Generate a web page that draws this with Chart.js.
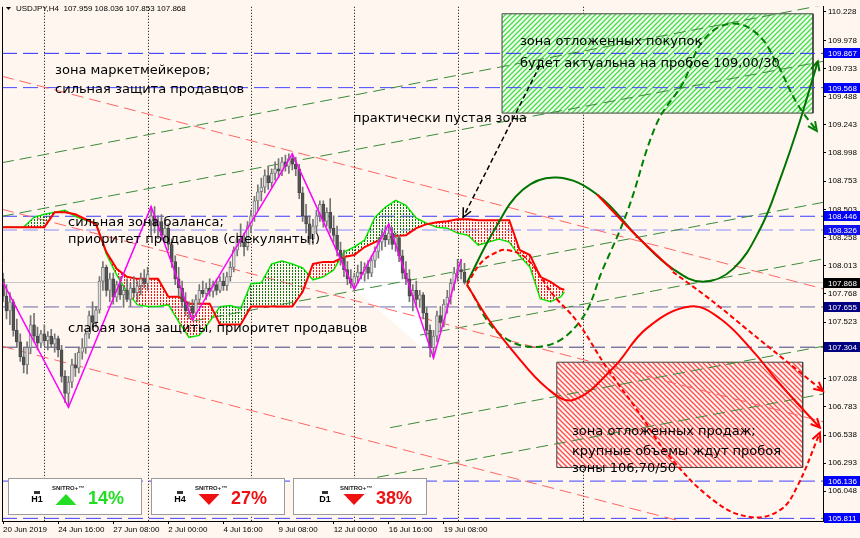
<!DOCTYPE html>
<html>
<head>
<meta charset="utf-8">
<script src="https://cdn.jsdelivr.net/npm/chart.js@4.4.1/dist/chart.umd.min.js"></script>
<style>
html,body{margin:0;padding:0;background:#fff7ef;}
canvas{display:block;}
</style>
</head>
<body>
<canvas id="chart" width="860" height="538"></canvas>
<script>
//CANDLES (H4 bars, index 0 = 20 Jun 2019 00:00)
const barOpen=[107.90,107.75,107.62,107.70,107.45,107.35,107.22,107.15,107.30,107.50,107.40,107.34,107.42,107.36,107.40,107.33,107.38,107.28,107.05,106.90,
107.00,107.15,107.12,107.26,107.30,107.42,107.58,107.52,107.63,107.88,108.00,107.80,107.90,107.74,107.85,107.76,107.80,107.72,107.82,107.78,
107.84,107.90,107.86,108.40,108.45,108.36,108.40,108.28,108.34,108.20,108.05,107.90,107.82,107.70,107.62,107.66,107.60,107.72,107.80,107.77,
107.82,107.79,107.85,107.80,107.88,107.84,107.92,108.00,108.15,108.25,108.22,108.18,108.36,108.45,108.58,108.66,108.70,108.80,108.74,108.82,
108.86,108.84,108.92,108.88,108.95,108.90,108.86,108.65,108.45,108.38,108.25,108.36,108.45,108.55,108.40,108.48,108.34,108.28,108.15,108.08,
107.98,107.90,107.86,107.92,107.96,107.94,108.00,107.95,108.06,108.14,108.22,108.28,108.24,108.30,108.20,108.26,108.10,107.95,107.90,107.75,
107.80,107.72,107.76,107.60,107.45,107.30,107.40,107.58,107.52,107.68,107.74,107.86,107.95,107.98,107.959];
const barHigh=[107.95,107.85,107.78,107.72,107.55,107.42,107.30,107.35,107.58,107.60,107.48,107.45,107.50,107.44,107.46,107.42,107.40,107.32,107.10,107.05,
107.20,107.25,107.30,107.38,107.45,107.62,107.70,107.66,107.92,108.05,108.02,107.95,107.95,107.88,107.92,107.84,107.90,107.86,107.92,107.88,
107.95,107.98,108.00,108.53,108.53,108.45,108.46,108.40,108.38,108.25,108.10,108.00,107.88,107.78,107.70,107.72,107.76,107.85,107.88,107.86,
107.90,107.88,107.90,107.92,107.95,107.96,108.05,108.18,108.30,108.38,108.30,108.40,108.50,108.62,108.72,108.78,108.85,108.88,108.86,108.92,
108.95,108.96,108.98,108.99,108.99,108.96,108.90,108.70,108.55,108.45,108.42,108.50,108.58,108.58,108.52,108.60,108.45,108.36,108.22,108.15,
108.05,107.98,107.95,108.02,108.05,108.04,108.06,108.10,108.18,108.26,108.32,108.36,108.38,108.35,108.30,108.28,108.15,108.05,107.98,107.85,
107.88,107.80,107.78,107.65,107.50,107.45,107.62,107.66,107.72,107.80,107.90,108.00,108.07,108.07,108.036];
const barLow=[107.70,107.55,107.50,107.40,107.30,107.18,107.08,107.07,107.25,107.35,107.28,107.30,107.32,107.28,107.30,107.26,107.22,107.00,106.82,106.78,
106.95,107.05,107.08,107.20,107.25,107.38,107.45,107.48,107.60,107.80,107.75,107.70,107.68,107.70,107.72,107.65,107.70,107.66,107.74,107.70,
107.76,107.82,107.80,108.28,108.30,108.25,108.24,108.22,108.15,108.00,107.85,107.75,107.65,107.58,107.55,107.54,107.58,107.68,107.74,107.72,
107.75,107.74,107.76,107.78,107.80,107.80,107.88,107.96,108.10,108.18,108.10,108.15,108.30,108.40,108.50,108.58,108.65,108.68,108.70,108.76,
108.78,108.80,108.84,108.82,108.85,108.80,108.60,108.40,108.30,108.20,108.20,108.30,108.40,108.35,108.36,108.30,108.22,108.10,108.02,107.92,
107.85,107.82,107.81,107.86,107.90,107.88,107.90,107.92,108.00,108.08,108.15,108.18,108.20,108.16,108.14,108.05,107.90,107.85,107.70,107.62,
107.66,107.65,107.55,107.40,107.22,107.21,107.35,107.45,107.48,107.60,107.68,107.80,107.88,107.90,107.853];
const barClose=[107.75,107.62,107.70,107.45,107.35,107.22,107.15,107.30,107.50,107.40,107.34,107.42,107.36,107.40,107.33,107.38,107.28,107.05,106.90,107.00,
107.15,107.12,107.26,107.30,107.42,107.58,107.52,107.63,107.88,108.00,107.80,107.90,107.74,107.85,107.76,107.80,107.72,107.82,107.78,107.84,
107.90,107.86,107.94,108.45,108.36,108.40,108.28,108.34,108.20,108.05,107.90,107.82,107.70,107.62,107.66,107.60,107.72,107.80,107.77,107.82,
107.79,107.85,107.80,107.88,107.84,107.92,108.00,108.15,108.25,108.22,108.18,108.36,108.45,108.58,108.66,108.70,108.80,108.74,108.82,108.86,
108.84,108.92,108.88,108.95,108.90,108.86,108.65,108.45,108.38,108.25,108.36,108.45,108.55,108.40,108.48,108.34,108.28,108.15,108.08,107.98,
107.90,107.86,107.92,107.96,107.94,108.00,107.95,108.06,108.14,108.22,108.28,108.24,108.30,108.20,108.26,108.10,107.95,107.90,107.75,107.80,
107.72,107.76,107.60,107.45,107.30,107.40,107.58,107.52,107.68,107.74,107.86,107.95,107.98,107.96,107.868];

//AXES
const xTickBars=[0,16,32,48,64,80,96,112,128];
const xTickLabels=['20 Jun 2019','24 Jun 16:00','27 Jun 08:00','2 Jul 00:00','4 Jul 16:00','9 Jul 08:00','12 Jul 00:00','16 Jul 16:00','19 Jul 08:00'];
const yTickValues=[110.228,109.978,109.733,109.488,109.243,108.998,108.753,108.503,108.258,108.013,107.768,107.523,107.278,107.028,106.783,106.538,106.293,106.048];
const gridBars=[12,42,72,102,132,168.4];

//HORIZONTAL LEVELS
const levelPrices=[109.867,109.568,108.446,108.326,107.655,107.304,106.136,105.811];
const levelLine=['#2a2aff','#4646ff','#3a3aff','#8c8cff','#6a6aa8','#40407e','#4040ff','#4040ff'];
const levelBox=['#0000ff','#0000ff','#0000ff','#1010f0','#000080','#000080','#0000ff','#0000ff'];
const lastPrice=107.868;

//ZIGZAG
const zigzagBars=[0,19,43,55,84,102,112,125,133];
const zigzagPrices=[107.87,106.78,108.53,107.54,108.99,107.81,108.38,107.21,108.07];

//CLOUD
const cloudBars=[0,3,6,9,12,15,18,21,24,27,30,33,36,39,42,45,48,51,54,57,60,63,66,69,72,75,78,81,84,87,90,93,96,99,102,105,108,111,114,117,120,123,126,129,132,135,138,141,144,147,150,153,156,159,162,163];
const cloudRed=[108.351,108.351,108.351,108.351,108.351,108.481,108.481,108.463,108.420,108.377,108.134,107.987,107.918,107.900,107.900,107.900,107.745,107.745,107.684,107.684,107.684,107.502,107.502,107.502,107.658,107.658,107.658,107.658,107.658,107.788,108.030,108.048,108.048,108.091,108.108,108.178,108.221,108.255,108.273,108.281,108.342,108.377,108.394,108.403,108.420,108.420,108.411,108.411,108.411,108.411,108.152,108.108,107.918,107.874,107.814,107.805];
const cloudGreen=[108.351,108.351,108.351,108.437,108.463,108.481,108.498,108.446,108.411,108.385,108.117,107.935,107.788,107.675,107.658,107.658,107.675,107.528,107.390,107.407,107.528,107.658,107.667,107.641,107.857,107.866,108.030,108.056,108.030,107.996,107.892,107.918,107.978,108.134,108.178,108.238,108.437,108.524,108.584,108.541,108.429,108.385,108.351,108.342,108.299,108.281,108.195,108.221,108.247,108.221,108.100,108.004,107.727,107.701,107.745,107.788];

//CHANNEL LINES [startBar,startPrice,endBar,endPrice]
const redChannel=[[-0.3,109.667,238.1,107.814],[-0.3,108.507,238.1,106.654],[-0.3,107.312,196.6,105.788]];
const greenChannel=[[-0.3,108.913,238.1,110.288],[-0.3,108.446,238.1,109.797],[55.2,107.532,238.1,108.567],[121.1,107.410,238.1,108.074],[112.4,106.602,238.1,107.312],[108.6,106.169,238.1,106.896]];

//FORECAST PATHS
const greenPathBars=[134.7,142.3,151.0,160.9,172.5,184.9,194.5,203.3,212.0,219.8,225.6,231.4,236.6];
const greenPathPrices=[107.866,108.307,108.680,108.784,108.636,108.247,107.987,107.874,107.987,108.333,108.766,109.277,109.797];
const greenAltBars=[134.7,144.3,156.8,167.5,174.2,181.2,189.9,197.4,203.3,211.1,218.9,224.7,230.5,236.3];
const greenAltPrices=[107.848,107.416,107.312,107.528,107.987,108.481,109.260,109.606,109.978,110.126,110.039,109.779,109.433,109.190];
const redPathBars=[134.7,141.4,148.1,157.9,165.5,177.1,186.9,199.5,208.2,217.8,225.6,237.2];
const redPathPrices=[107.848,107.528,107.268,106.948,106.844,107.121,107.468,107.658,107.554,107.268,106.983,106.602];
const redAltBars=[134.7,138.5,142.3,146.3,152.1,159.7,166.7,175.4,184.9,192.8,206.2,216.9,225.6,230.5,237.2];
const redAltPrices=[107.848,108.030,108.117,108.152,108.074,107.762,107.528,107.121,106.723,106.377,105.970,105.823,105.883,106.082,106.558];
const redBranchBars=[172.5,184.9,194.5];
const redBranchPrices=[108.636,108.247,107.978];
const redBranchDashBars=[194.5,206.2,217.8,228.5,238.1];
const redBranchDashPrices=[107.961,107.701,107.416,107.156,106.922];
const pointerBars=[155.9,133.6];
const pointerPrices=[109.762,108.437];

//ZONES [leftBar,rightBar,topPrice,bottomPrice]
const buyZone=[144.9,235.2,110.212,109.346];
const sellZone=[160.8,232.2,107.173,106.255];
const triBars=[102,112,125];
const triPrices=[107.814,108.377,107.216];

//SIGNAL PANELS
const signalFrames=['H1','H4','D1'];
const signalPercent=[14,27,38];
const signalUp=[true,false,false];

//NOTES
const notes=[
 ['зона маркетмейкеров;',15.1,109.719],
 ['сильная защита продавцов',15.1,109.554],
 ['практически пустая зона',101.6,109.294],
 ['зона отложенных покупок',150.1,109.970],
 ['будет актуальна на пробое 109,00/30',150.1,109.779],
 ['сильная зона баланса;',18.9,108.394],
 ['приоритет продавцов (спекулянты!)',18.9,108.238],
 ['слабая зона защиты, приоритет продавцов',18.9,107.468],
 ['зона отложенных продаж;',165.2,106.567],
 ['крупные объемы ждут пробоя',165.2,106.394],
 ['зоны 106,70/50',165.2,106.247]
];

const X_MIN=-0.3, X_MAX=238.1;
const canvas=document.getElementById('chart');
const mainCtx=canvas.getContext('2d');

//PATTERNS
function hatch(bg,fg,dir){
    const c=document.createElement('canvas');c.width=5;c.height=5;
    const g=c.getContext('2d');
    g.fillStyle=bg;g.fillRect(0,0,5,5);
    g.strokeStyle=fg;g.lineWidth=1.3;g.beginPath();
    if(dir>0){g.moveTo(0,5);g.lineTo(5,0);g.moveTo(-1,1);g.lineTo(1,-1);g.moveTo(4,6);g.lineTo(6,4);}
    else{g.moveTo(0,0);g.lineTo(5,5);g.moveTo(-1,4);g.lineTo(1,6);g.moveTo(4,-1);g.lineTo(6,1);}
    g.stroke();
    return mainCtx.createPattern(c,'repeat');
}
function dots(color){
    const c=document.createElement('canvas');c.width=3;c.height=3;
    const g=c.getContext('2d');g.fillStyle=color;g.fillRect(1,0,1,2);
    return mainCtx.createPattern(c,'repeat');
}
const pts=(bs,ps)=>bs.map((b,i)=>({x:b,y:ps[i]}));
const rect=z=>[{x:z[0],y:z[2]},{x:z[1],y:z[2]},{x:z[1],y:z[3]},{x:z[0],y:z[3]},{x:z[0],y:z[2]}];
const line=(o)=>Object.assign({type:'line',pointRadius:0,borderWidth:1,tension:0,fill:false},o);

const ds=[];
ds.push(line({data:pts(triBars,triPrices).concat([{x:triBars[0],y:triPrices[0]}]),fill:'shape',backgroundColor:'#ffffff',borderColor:'rgba(0,0,0,0)',order:100}));
ds.push(line({data:rect(buyZone),fill:'shape',backgroundColor:hatch('#f2fff0','#46dc46',1),borderColor:'#404040',order:95}));
ds.push(line({data:rect(sellZone),fill:'shape',backgroundColor:hatch('#fff4f0','#ff4a4a',-1),borderColor:'#404040',order:95}));
levelPrices.forEach((p,i)=>ds.push(line({data:[{x:X_MIN,y:p},{x:X_MAX,y:p}],borderColor:levelLine[i],borderDash:[15,6],order:90})));
ds.push(line({data:[{x:X_MIN,y:lastPrice},{x:X_MAX,y:lastPrice}],borderColor:'#c8c8c8',order:89}));
redChannel.forEach(r=>ds.push(line({data:[{x:r[0],y:r[1]},{x:r[2],y:r[3]}],borderColor:'#ff6464',borderDash:[12,6],order:85})));
greenChannel.forEach(r=>ds.push(line({data:[{x:r[0],y:r[1]},{x:r[2],y:r[3]}],borderColor:'#3a8a3a',borderDash:[12,6],order:85})));
ds.push(line({data:pts(cloudBars,cloudGreen),borderColor:'#00ee00',borderWidth:1.5,order:80}));
ds.push(line({data:pts(cloudBars,cloudRed),borderColor:'#ff0000',borderWidth:2,order:79,
    fill:{target:'-1',above:dots('#ff1010'),below:dots('#107a10')}}));
ds.push({type:'bar',data:barLow.map((l,i)=>({x:i,y:[l,barHigh[i]]})),barThickness:1,grouped:false,backgroundColor:'#747474',borderWidth:0,order:70});
ds.push({type:'bar',data:barOpen.map((o,i)=>({x:i,y:[o,barClose[i]]})),barThickness:3,grouped:false,borderWidth:1,borderSkipped:false,order:69,
    backgroundColor:c=>barClose[c.dataIndex]>=barOpen[c.dataIndex]?'#e0e0e0':'#555555',
    borderColor:c=>barClose[c.dataIndex]>=barOpen[c.dataIndex]?'#7e7e7e':'#474747'});
ds.push(line({data:pts(zigzagBars,zigzagPrices),borderColor:'#ff00ff',borderWidth:1.5,order:60}));
ds.push(line({data:pts(greenAltBars,greenAltPrices),borderColor:'#008000',borderWidth:2,borderDash:[7,4],tension:0.4,arrowHead:true,order:52}));
ds.push(line({data:pts(greenPathBars,greenPathPrices),borderColor:'#007400',borderWidth:2,tension:0.4,arrowHead:true,order:51}));
ds.push(line({data:pts(redAltBars,redAltPrices),borderColor:'#ff0000',borderWidth:2,borderDash:[5,3],tension:0.4,arrowHead:true,order:50}));
ds.push(line({data:pts(redPathBars,redPathPrices),borderColor:'#ff0000',borderWidth:2,tension:0.4,arrowHead:true,order:50}));
ds.push(line({data:pts(redBranchBars,redBranchPrices),borderColor:'#ff0000',borderWidth:2,tension:0.4,order:49}));
ds.push(line({data:pts(redBranchDashBars,redBranchDashPrices),borderColor:'#ff0000',borderWidth:2,borderDash:[5,3],tension:0.3,arrowHead:true,order:49}));
ds.push(line({data:pts(pointerBars,pointerPrices),borderColor:'#000000',borderWidth:1.5,borderDash:[5,3],arrowHead:true,order:48}));

//DECORATION PLUGIN
const decor={
    id:'decor',
    beforeDatasetsDraw(chart){
        const {ctx,chartArea:a,scales:{x}}=chart;
        ctx.save();
        ctx.strokeStyle='#000';ctx.lineWidth=1;ctx.setLineDash([1,2]);
        gridBars.forEach(b=>{
            const px=Math.round(x.getPixelForValue(b))+0.5;
            ctx.beginPath();ctx.moveTo(px,a.top);ctx.lineTo(px,a.bottom);ctx.stroke();
        });
        ctx.restore();
    },
    afterDatasetsDraw(chart){
        const {ctx,scales:{x,y}}=chart;
        chart.data.datasets.forEach((d,i)=>{
            if(!d.arrowHead)return;
            const el=chart.getDatasetMeta(i).data;
            const p=el[el.length-1];
            let qx=p.cp1x,qy=p.cp1y;
            if(qx===undefined||Math.hypot(p.x-qx,p.y-qy)<1){qx=el[el.length-2].x;qy=el[el.length-2].y;}
            const ang=Math.atan2(p.y-qy,p.x-qx),L=10,w=0.45;
            ctx.save();ctx.strokeStyle=d.borderColor;ctx.lineWidth=d.borderWidth;ctx.setLineDash([]);
            ctx.beginPath();
            ctx.moveTo(p.x-L*Math.cos(ang-w),p.y-L*Math.sin(ang-w));
            ctx.lineTo(p.x,p.y);
            ctx.lineTo(p.x-L*Math.cos(ang+w),p.y-L*Math.sin(ang+w));
            ctx.stroke();ctx.restore();
        });
        ctx.save();
        ctx.font='13px "DejaVu Sans"';ctx.fillStyle='#000';ctx.textBaseline='middle';ctx.textAlign='left';
        notes.forEach(n=>ctx.fillText(n[0],x.getPixelForValue(n[1]),y.getPixelForValue(n[2])));
        ctx.restore();
    },
    afterDraw(chart){
        const {ctx,chartArea:a,scales:{y}}=chart;
        ctx.save();
        //left frame
        ctx.strokeStyle='#000';ctx.lineWidth=1;
        ctx.beginPath();ctx.moveTo(a.left+0.5,a.top);ctx.lineTo(a.left+0.5,a.bottom);ctx.stroke();
        //title
        ctx.fillStyle='#000';
        ctx.beginPath();ctx.moveTo(6,7);ctx.lineTo(11,7);ctx.lineTo(8.5,10);ctx.closePath();ctx.fill();
        ctx.font='8px "Liberation Sans"';ctx.textBaseline='middle';ctx.textAlign='left';
        ctx.fillText('USDJPY,H4  '+barOpen[barOpen.length-1].toFixed(3)+' '+barHigh[barHigh.length-1].toFixed(3)+' '+barLow[barLow.length-1].toFixed(3)+' '+barClose[barClose.length-1].toFixed(3),16,9);
        //price boxes
        const box=(p,bg)=>{
            const py=Math.round(y.getPixelForValue(p));
            ctx.fillStyle=bg;ctx.fillRect(a.right+1,py-5,37,10);
            ctx.fillStyle='#fff';ctx.fillText(p.toFixed(3),a.right+5,py+0.5);
        };
        levelPrices.forEach((p,i)=>box(p,levelBox[i]));
        box(lastPrice,'#000');
        //signal panels
        const panelX=[8,151,293],shift=[0,0,3];
        signalFrames.forEach((f,i)=>{
            const px=panelX[i],sx=px+shift[i];
            ctx.fillStyle='#ffffff';ctx.fillRect(px,478,134,37);
            ctx.strokeStyle='#9a9a9a';ctx.lineWidth=1;ctx.strokeRect(px+0.5,478.5,133,36);
            ctx.fillStyle='#333';ctx.fillRect(sx+26,491,6,3);
            ctx.fillStyle='#000';ctx.font='bold 9px "Liberation Sans"';ctx.textAlign='center';
            ctx.fillText(f,sx+29,500);
            ctx.fillStyle='#222';ctx.font='bold 6px "Liberation Sans"';ctx.textAlign='left';
            ctx.fillText('SNITRO+™',sx+44,488);
            const col=signalUp[i]?'#22dd22':'#ee1111';
            ctx.fillStyle=col;ctx.beginPath();
            if(signalUp[i]){ctx.moveTo(sx+58,494);ctx.lineTo(sx+68.5,505);ctx.lineTo(sx+47.5,505);}
            else{ctx.moveTo(sx+47.5,494);ctx.lineTo(sx+68.5,494);ctx.lineTo(sx+58,505);}
            ctx.closePath();ctx.fill();
            ctx.font='bold 18px "Liberation Sans"';
            ctx.fillText(signalPercent[i]+'%',sx+80,499);
        });
        ctx.restore();
    }
};

new Chart(canvas,{
    type:'bar',
    data:{datasets:ds},
    options:{
        responsive:false,animation:false,devicePixelRatio:1,events:[],
        layout:{padding:{left:2,top:2,right:0,bottom:0}},
        plugins:{legend:{display:false},tooltip:{enabled:false}},
        scales:{
            x:{type:'linear',min:X_MIN,max:X_MAX,offset:false,
                afterBuildTicks:s=>{s.ticks=xTickBars.map(v=>({value:v}));},
                afterFit:s=>{s.height=17;},
                ticks:{autoSkip:false,maxRotation:0,minRotation:0,align:'start',padding:1,color:'#000',
                    font:{family:'Liberation Sans',size:8},callback:v=>xTickLabels[xTickBars.indexOf(v)]},
                grid:{drawOnChartArea:false,offset:false,tickLength:3,color:'#000'},
                border:{color:'#000'}},
            y:{type:'linear',position:'right',min:105.788,max:110.273,beginAtZero:false,
                afterBuildTicks:s=>{s.ticks=yTickValues.map(v=>({value:v}));},
                afterFit:s=>{s.width=37;},
                ticks:{padding:2,color:'#000',font:{family:'Liberation Sans',size:8},callback:v=>v.toFixed(3)},
                grid:{drawOnChartArea:false,tickLength:3,color:'#000'},
                border:{color:'#000'}}
        }
    },
    plugins:[decor]
});
</script>
</body>
</html>
